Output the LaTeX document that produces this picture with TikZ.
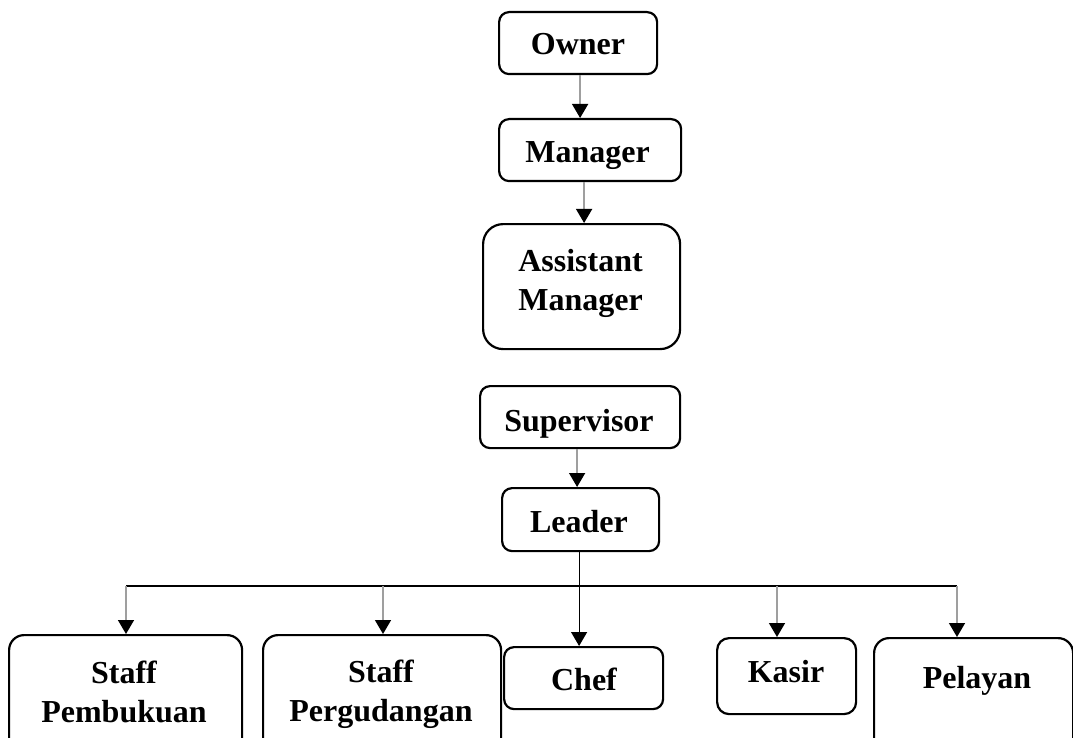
\documentclass[tikz,border=0pt]{standalone}
\usepackage{fontspec}
\setmainfont{Liberation Serif}
\usetikzlibrary{arrows.meta}
\begin{document}
\begin{tikzpicture}[x=1pt,y=-1pt,
  box/.style={draw=black,line width=2.2pt,rounded corners=#1,anchor=north west,inner sep=0pt},
  box/.default=10pt,
  lbl/.style={font=\fontsize{32}{39}\selectfont\bfseries,align=center,anchor=base,inner sep=0pt},
  tip/.style={-{Triangle[length=14pt,width=16pt,color=black]}},
  arr/.style={draw=gray!75,line width=1.5pt,tip},
  ln/.style={draw=black,line width=1.2pt}]
\useasboundingbox (0,0) rectangle (1073,738);
\clip (0,0) rectangle (1073,738);
% boxes
\node[box,minimum width=158pt,minimum height=62pt] (owner) at (498,11) {};
\node[box,minimum width=182pt,minimum height=62pt] (manager) at (498,118) {};
\node[box=20pt,minimum width=197pt,minimum height=125pt] (asst) at (482,223) {};
\node[box,minimum width=200pt,minimum height=62pt] (sup) at (479,385) {};
\node[box,minimum width=157pt,minimum height=63pt] (leader) at (501,487) {};
\node[box=15pt,minimum width=233pt,minimum height=140pt] (sp) at (8,634) {};
\node[box=15pt,minimum width=238pt,minimum height=140pt] (spg) at (262,634) {};
\node[box,minimum width=159pt,minimum height=62pt] (chef) at (503,646) {};
\node[box=12pt,minimum width=139pt,minimum height=76pt] (kasir) at (716,637) {};
\node[box=15pt,minimum width=199pt,minimum height=140pt] (pel) at (873,637) {};
% labels
\node[lbl] (ownerT) at (578,55) {Owner};
\node[lbl] (managerT) at (587.5,163) {Manager};
\node[lbl] (asstT) at (580.5,310) {Assistant\\Manager};
\node[lbl] (supT) at (579,431) {Supervisor};
\node[lbl] (leaderT) at (579,532) {Leader};
\node[lbl] (spT) at (124,722) {Staff\\Pembukuan};
\node[lbl] (spgT) at (381,721) {Staff\\Pergudangan};
\node[lbl] (chefT) at (584,690) {Chef};
\node[lbl] (kasirT) at (786,682) {Kasir};
\node[lbl] (pelT) at (977,688) {Pelayan};
% connectors
\draw[arr] ([xshift=2pt]owner.south) -- ([xshift=2pt]owner.south |- manager.north);
\draw[arr] ([xshift=-6pt]manager.south) -- ([xshift=-6pt]manager.south |- asst.north);
\draw[arr] ([xshift=-3pt]sup.south) -- ([xshift=-3pt]sup.south |- leader.north);
\draw[ln,tip] ([xshift=-1.5pt]leader.south) -- ([xshift=-1.5pt]leader.south |- chef.north);
\coordinate (hL) at (126,586);
\coordinate (h2) at (383,586);
\coordinate (h4) at (777,586);
\coordinate (hR) at (957,586);
\draw[ln] (hL) -- (hR);
\draw[arr] (hL) -- (hL |- sp.north);
\draw[arr] (h2) -- (h2 |- spg.north);
\draw[arr] (h4) -- (h4 |- kasir.north);
\draw[arr] (hR) -- (hR |- pel.north);
\end{tikzpicture}
\end{document}
